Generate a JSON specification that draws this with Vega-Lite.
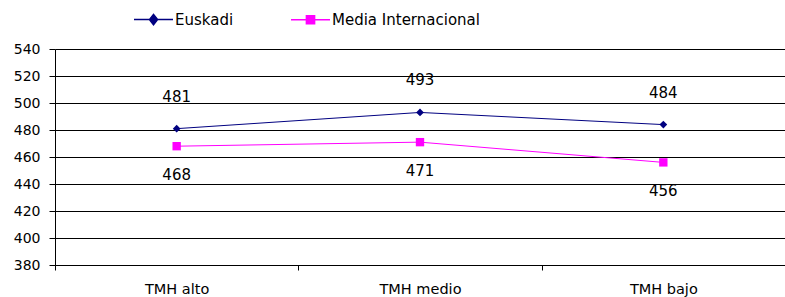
{
  "$schema": "https://vega.github.io/schema/vega-lite/v6.json",
  "width": 730,
  "height": 216,
  "autosize": {"type": "none"},
  "padding": {"left": 55, "top": 49, "right": 0, "bottom": 32},
  "background": "white",
  "config": {
    "font": "DejaVu Sans",
    "view": {"stroke": null}
  },
  "data": {
    "values": [
      {"grupo": "TMH alto", "serie": "Euskadi", "valor": 481},
      {"grupo": "TMH medio", "serie": "Euskadi", "valor": 493},
      {"grupo": "TMH bajo", "serie": "Euskadi", "valor": 484},
      {"grupo": "TMH alto", "serie": "Media Internacional", "valor": 468},
      {"grupo": "TMH medio", "serie": "Media Internacional", "valor": 471},
      {"grupo": "TMH bajo", "serie": "Media Internacional", "valor": 456}
    ]
  },
  "encoding": {
    "x": {
      "field": "grupo",
      "type": "nominal",
      "sort": ["TMH alto", "TMH medio", "TMH bajo"],
      "scale": {"type": "band", "paddingInner": 0, "paddingOuter": 0},
      "axis": {
        "title": null,
        "labelAngle": 0,
        "labelFontSize": 14.5,
        "labelColor": "black",
        "labelPadding": 12,
        "domainColor": "black",
        "tickColor": "black",
        "tickSize": 5,
        "tickBand": "extent",
        "grid": false
      }
    },
    "y": {
      "field": "valor",
      "type": "quantitative",
      "scale": {"domain": [380, 540], "nice": false, "zero": false},
      "axis": {
        "title": null,
        "values": [380, 400, 420, 440, 460, 480, 500, 520, 540],
        "labelFontSize": 14,
        "labelColor": "black",
        "labelPadding": 9,
        "domainColor": "black",
        "tickColor": "black",
        "tickSize": 6,
        "gridColor": "black",
        "gridOpacity": 1,
        "grid": true
      }
    }
  },
  "layer": [
    {
      "mark": {"type": "line", "strokeWidth": 1},
      "encoding": {
        "color": {
          "field": "serie",
          "type": "nominal",
          "scale": {"domain": ["Euskadi", "Media Internacional"], "range": ["#000080", "#FF00FF"]},
          "legend": {
            "title": null,
            "orient": "none",
            "legendX": 78,
            "legendY": -50,
            "direction": "horizontal",
            "labelFontSize": 15,
            "labelColor": "black",
            "labelOffset": 1,
            "columnPadding": 54,
            "symbolSize": 1521,
            "symbolStrokeWidth": 1.5,
            "encode": {
              "symbols": {
                "update": {
                  "shape": {"signal": "datum.value === 'Euskadi' ? 'M-1,0L1,0M-0.21,0L0,-0.27L0.21,0L0,0.27L-0.21,0Z' : 'M-1,0L1,0M-0.21,-0.21L0.21,-0.21L0.21,0.21L-0.21,0.21Z'"},
                  "fill": {"signal": "datum.value === 'Euskadi' ? '#000080' : '#FF00FF'"},
                  "fillOpacity": {"value": 1}
                }
              }
            }
          }
        }
      }
    },
    {
      "transform": [{"filter": "datum.serie === 'Euskadi'"}],
      "mark": {"type": "point", "shape": "diamond", "filled": true, "opacity": 1, "color": "#000080", "size": 60}
    },
    {
      "transform": [{"filter": "datum.serie === 'Media Internacional'"}],
      "mark": {"type": "point", "shape": "square", "filled": true, "opacity": 1, "color": "#FF00FF", "size": 70}
    },
    {
      "transform": [{"filter": "datum.serie === 'Euskadi'"}],
      "mark": {"type": "text", "fontSize": 15, "color": "black", "dy": -32},
      "encoding": {"text": {"field": "valor", "type": "quantitative"}}
    },
    {
      "transform": [{"filter": "datum.serie === 'Media Internacional'"}],
      "mark": {"type": "text", "fontSize": 15, "color": "black", "dy": 29},
      "encoding": {"text": {"field": "valor", "type": "quantitative"}}
    }
  ]
}
